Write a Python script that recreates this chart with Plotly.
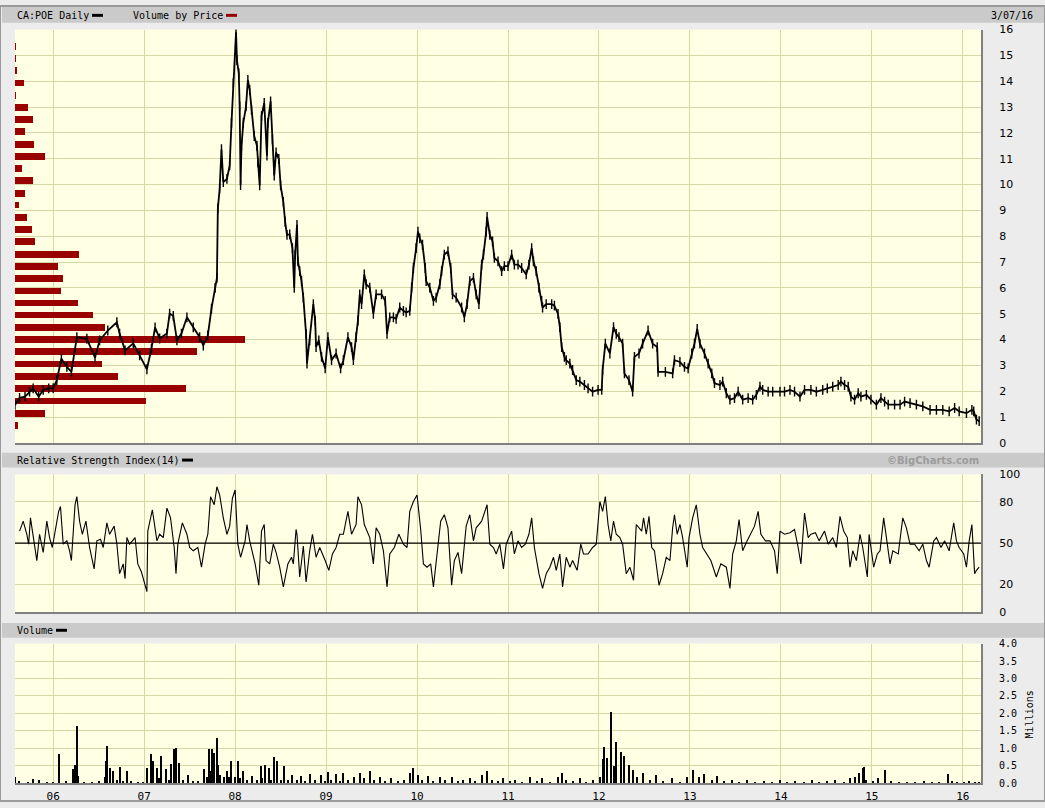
import plotly.graph_objects as go

# ---- data (x in decimal years) ----
price_t = [
    2005.58, 2005.63, 2005.69, 2005.74, 2005.78, 2005.84, 2005.89, 2005.95,
    2006.00, 2006.04, 2006.09, 2006.15, 2006.20, 2006.26, 2006.37, 2006.46, 2006.51, 2006.60, 2006.70, 2006.73, 2006.79, 2006.88, 2006.95,
    2007.03, 2007.08, 2007.12, 2007.17, 2007.25, 2007.28, 2007.32, 2007.36, 2007.41, 2007.47, 2007.54, 2007.61, 2007.65, 2007.70, 2007.74, 2007.78, 2007.80, 2007.81, 2007.83, 2007.85, 2007.87, 2007.91, 2007.94, 2007.96, 2007.98,
    2008.01, 2008.02, 2008.04, 2008.05, 2008.06, 2008.07, 2008.09, 2008.12, 2008.14, 2008.16, 2008.18, 2008.21, 2008.24, 2008.25, 2008.27, 2008.29, 2008.32, 2008.35, 2008.36, 2008.39, 2008.41, 2008.43, 2008.45, 2008.48, 2008.50, 2008.53, 2008.55, 2008.57, 2008.60, 2008.63, 2008.65, 2008.66, 2008.68, 2008.69, 2008.71, 2008.73, 2008.75, 2008.78, 2008.79, 2008.82, 2008.86, 2008.88, 2008.89, 2008.92, 2008.95, 2008.99,
    2009.02, 2009.06, 2009.11, 2009.16, 2009.19, 2009.24, 2009.28, 2009.30, 2009.33, 2009.35, 2009.37, 2009.39, 2009.42, 2009.44, 2009.48, 2009.52, 2009.55, 2009.61, 2009.65, 2009.67, 2009.70, 2009.74, 2009.77, 2009.81, 2009.85, 2009.88, 2009.92, 2009.94, 2009.96, 2009.99,
    2010.01, 2010.03, 2010.06, 2010.09, 2010.10, 2010.14, 2010.18, 2010.21, 2010.25, 2010.27, 2010.30, 2010.34, 2010.37, 2010.39, 2010.43, 2010.49, 2010.52, 2010.55, 2010.58, 2010.62, 2010.65, 2010.68, 2010.71, 2010.73, 2010.76, 2010.77, 2010.80, 2010.83, 2010.85, 2010.89, 2010.93, 2010.96,
    2011.00, 2011.04, 2011.07, 2011.11, 2011.15, 2011.20, 2011.23, 2011.26, 2011.28, 2011.31, 2011.34, 2011.37, 2011.38, 2011.42, 2011.48, 2011.51, 2011.55, 2011.57, 2011.59, 2011.62, 2011.64, 2011.68, 2011.71, 2011.75, 2011.79, 2011.84, 2011.88, 2011.93, 2011.99,
    2012.03, 2012.04, 2012.07, 2012.12, 2012.16, 2012.19, 2012.22, 2012.26, 2012.28, 2012.33, 2012.37, 2012.39, 2012.44, 2012.48, 2012.54, 2012.59, 2012.64, 2012.65, 2012.73, 2012.81, 2012.83, 2012.89, 2012.94, 2012.98,
    2013.02, 2013.05, 2013.08, 2013.11, 2013.16, 2013.20, 2013.24, 2013.27, 2013.33, 2013.36, 2013.40, 2013.44, 2013.49, 2013.53, 2013.58, 2013.64, 2013.69, 2013.73, 2013.77, 2013.80, 2013.86, 2013.91, 2013.99,
    2014.04, 2014.10, 2014.15, 2014.21, 2014.26, 2014.33, 2014.39, 2014.46, 2014.51, 2014.57, 2014.63, 2014.66, 2014.70, 2014.74, 2014.77, 2014.81, 2014.85, 2014.88, 2014.94, 2014.99,
    2015.05, 2015.10, 2015.14, 2015.18, 2015.25, 2015.31, 2015.36, 2015.42, 2015.49, 2015.56, 2015.64, 2015.71, 2015.78, 2015.85, 2015.91, 2015.96,
    2016.04, 2016.10, 2016.12, 2016.15, 2016.18,
]
price_close = [
    1.47, 1.74, 1.79, 1.98, 2.11, 1.79, 2.05, 2.11,
    2.12, 2.43, 3.26, 2.94, 2.75, 4.09, 4.03, 3.30, 3.97, 4.35, 4.67, 4.23, 3.58, 3.85, 3.39,
    2.85, 3.65, 4.47, 4.04, 4.23, 5.00, 4.92, 3.97, 4.23, 4.86, 4.47, 4.09, 3.77, 4.16, 5.20, 6.00, 6.39, 9.07, 9.84, 11.37, 10.10, 10.22, 10.74, 12.39, 13.93,
    15.90, 14.82, 14.31, 13.03, 9.98, 11.50, 12.39, 13.03, 14.05, 13.67, 12.90, 11.88, 11.50, 10.86, 9.97, 12.65, 13.16, 11.12, 12.39, 13.22, 11.75, 10.35, 11.25, 10.99, 9.97, 9.33, 8.56, 8.05, 8.07, 7.54, 6.00, 7.29, 8.44, 7.03, 6.65, 6.26, 5.62, 4.22, 3.07, 3.97, 5.37, 4.73, 3.71, 3.97, 3.33, 2.88,
    4.09, 3.20, 3.46, 2.88, 3.20, 4.09, 3.71, 3.20, 4.09, 4.73, 5.75, 5.37, 6.52, 6.14, 6.01, 4.99, 5.75, 5.75, 5.50, 4.22, 4.86, 4.86, 4.80, 5.24, 5.11, 5.05, 5.11, 6.01, 6.77, 7.54,
    8.18, 7.92, 7.67, 6.77, 6.26, 6.01, 5.50, 5.62, 6.14, 6.65, 7.29, 7.41, 6.77, 5.75, 5.62, 5.24, 4.86, 5.37, 6.26, 6.39, 5.75, 5.37, 6.90, 7.29, 8.18, 8.75, 8.05, 7.80, 7.16, 7.03, 6.65, 6.84,
    6.84, 7.29, 6.90, 6.90, 6.77, 6.52, 6.90, 7.54, 7.03, 6.65, 6.01, 5.50, 5.24, 5.37, 5.37, 5.31, 4.99, 4.48, 3.71, 3.33, 3.20, 3.07, 2.82, 2.43, 2.37, 2.24, 2.11, 1.98, 2.05,
    2.05, 2.82, 3.84, 3.46, 4.48, 4.22, 4.09, 3.84, 2.69, 2.43, 1.98, 3.33, 3.46, 3.84, 4.35, 3.84, 3.71, 2.75, 2.75, 2.69, 3.20, 3.13, 2.94, 2.88,
    3.46, 3.84, 4.41, 3.84, 3.46, 3.07, 2.69, 2.31, 2.24, 2.37, 1.92, 1.67, 1.73, 1.98, 1.67, 1.73, 1.67, 1.86, 2.18, 2.05, 1.98, 1.98, 1.98,
    1.98, 2.05, 1.98, 1.79, 2.05, 2.05, 1.98, 2.05, 2.11, 2.18, 2.24, 2.37, 2.24, 2.18, 1.79, 1.67, 1.92, 1.79, 1.86, 1.67,
    1.48, 1.73, 1.60, 1.48, 1.48, 1.48, 1.60, 1.54, 1.48, 1.41, 1.28, 1.28, 1.28, 1.22, 1.35, 1.22,
    1.15, 1.28, 1.22, 0.90, 0.84,
]

# volume by price: bin centre price and relative volume
vbp_price = [0.69, 1.16, 1.64, 2.12, 2.59, 3.07, 3.54, 4.01, 4.49, 4.97, 5.43, 5.90, 6.37, 6.85, 7.32, 7.80,
             8.28, 8.75, 9.22, 9.68, 10.17, 10.64, 11.11, 11.58, 12.06, 12.53, 13.00, 13.47, 13.95, 14.42, 14.90, 15.37]
vbp_volume = [3.3, 30.3, 131.3, 171.3, 103.3, 87.3, 182.3, 230.3, 90.3, 78.3, 63.3, 46.3, 48.3, 43.3, 64.3, 20.3,
              17.3, 12.3, 4.3, 10.3, 18.3, 7.3, 30.3, 19.3, 10.3, 18.3, 13.3, 1.0, 9.3, 2.3, 1.0, 1.0]

rsi_t = [
    2005.63, 2005.67, 2005.71, 2005.73, 2005.75, 2005.78, 2005.82, 2005.85, 2005.89, 2005.93, 2005.96, 2005.99,
    2006.02, 2006.06, 2006.08, 2006.11, 2006.15, 2006.18, 2006.20, 2006.24, 2006.26, 2006.29, 2006.32, 2006.36, 2006.40, 2006.45, 2006.48, 2006.52, 2006.55, 2006.59, 2006.62, 2006.67, 2006.70, 2006.73, 2006.77, 2006.79, 2006.81, 2006.84, 2006.90, 2006.93, 2006.97,
    2007.03, 2007.04, 2007.09, 2007.14, 2007.17, 2007.21, 2007.25, 2007.29, 2007.33, 2007.35, 2007.37, 2007.42, 2007.47, 2007.50, 2007.54, 2007.59, 2007.63, 2007.67, 2007.70, 2007.73, 2007.77, 2007.80, 2007.83, 2007.87, 2007.91, 2007.94, 2007.97,
    2008.00, 2008.03, 2008.06, 2008.11, 2008.13, 2008.16, 2008.22, 2008.26, 2008.29, 2008.32, 2008.34, 2008.38, 2008.42, 2008.45, 2008.49, 2008.53, 2008.58, 2008.62, 2008.64, 2008.67, 2008.68, 2008.71, 2008.75, 2008.78, 2008.82, 2008.85, 2008.89, 2008.93, 2008.99,
    2009.03, 2009.07, 2009.11, 2009.15, 2009.19, 2009.24, 2009.28, 2009.33, 2009.35, 2009.39, 2009.42, 2009.48, 2009.52, 2009.55, 2009.59, 2009.63, 2009.67, 2009.70, 2009.75, 2009.80, 2009.85, 2009.89, 2009.92, 2009.96,
    2010.00, 2010.04, 2010.07, 2010.11, 2010.15, 2010.18, 2010.21, 2010.26, 2010.30, 2010.34, 2010.38, 2010.41, 2010.45, 2010.49, 2010.54, 2010.58, 2010.62, 2010.65, 2010.71, 2010.77, 2010.80, 2010.84, 2010.87, 2010.91, 2010.95, 2010.98,
    2011.04, 2011.07, 2011.11, 2011.15, 2011.19, 2011.23, 2011.26, 2011.29, 2011.34, 2011.38, 2011.42, 2011.46, 2011.50, 2011.53, 2011.57, 2011.60, 2011.64, 2011.68, 2011.71, 2011.76, 2011.80, 2011.83, 2011.88, 2011.93, 2011.97,
    2012.01, 2012.04, 2012.07, 2012.10, 2012.13, 2012.16, 2012.19, 2012.23, 2012.26, 2012.30, 2012.34, 2012.38, 2012.41, 2012.47, 2012.49, 2012.52, 2012.55, 2012.58, 2012.61, 2012.66, 2012.70, 2012.74, 2012.78, 2012.81, 2012.83, 2012.86, 2012.89, 2012.92, 2012.97, 2012.99,
    2013.03, 2013.07, 2013.11, 2013.14, 2013.18, 2013.23, 2013.29, 2013.34, 2013.40, 2013.44, 2013.47, 2013.51, 2013.54, 2013.58, 2013.62, 2013.66, 2013.71, 2013.75, 2013.78, 2013.83, 2013.88, 2013.93, 2013.96, 2013.99,
    2014.04, 2014.10, 2014.15, 2014.19, 2014.22, 2014.26, 2014.30, 2014.33, 2014.38, 2014.42, 2014.48, 2014.52, 2014.57, 2014.61, 2014.65, 2014.69, 2014.73, 2014.76, 2014.79, 2014.83, 2014.87, 2014.90, 2014.95, 2014.97,
    2015.02, 2015.06, 2015.09, 2015.13, 2015.17, 2015.20, 2015.23, 2015.29, 2015.34, 2015.38, 2015.42, 2015.47, 2015.52, 2015.56, 2015.60, 2015.63, 2015.68, 2015.71, 2015.76, 2015.80, 2015.85, 2015.90, 2015.93, 2015.96,
    2016.01, 2016.04, 2016.07, 2016.10, 2016.13, 2016.15, 2016.18,
]
rsi_value = [
    58.8, 66.0, 56.5, 49.3, 68.4, 54.1, 37.4, 56.5, 43.3, 66.0, 54.1, 46.9,
    58.8, 73.1, 76.7, 49.3, 51.7, 44.5, 37.4, 77.9, 83.8, 66.0, 56.5, 66.0, 46.9, 31.4, 51.7, 52.9, 46.9, 64.8, 56.5, 62.4, 49.3, 27.9, 35.0, 24.3, 54.1, 49.3, 54.1, 35.0, 29.1,
    14.8, 58.8, 74.3, 51.7, 56.5, 54.1, 75.5, 68.4, 46.9, 27.9, 49.3, 64.8, 56.5, 46.9, 44.5, 46.9, 32.6, 49.3, 56.5, 83.8, 77.9, 91.0, 85.0, 68.4, 56.5, 62.4, 82.6,
    88.6, 49.3, 39.8, 51.7, 63.6, 51.7, 35.0, 19.5, 58.8, 63.6, 37.4, 35.0, 49.3, 43.3, 32.6, 18.3, 35.0, 39.8, 35.0, 60.0, 56.5, 25.5, 48.0, 21.9, 44.5, 56.5, 39.8, 46.9, 37.4,
    30.3, 42.2, 46.9, 56.5, 56.5, 73.1, 56.5, 63.6, 83.8, 77.9, 63.6, 54.1, 35.0, 61.2, 56.5, 44.5, 18.3, 42.2, 46.9, 56.5, 49.3, 46.9, 73.1, 80.3,
    85.0, 60.0, 35.0, 32.6, 35.0, 18.3, 37.4, 66.0, 70.7, 61.2, 19.5, 37.4, 43.3, 27.9, 62.4, 70.7, 51.7, 61.2, 66.0, 77.9, 49.3, 46.9, 42.2, 49.3, 31.4, 49.3,
    58.8, 42.2, 51.7, 46.9, 49.3, 56.5, 68.4, 46.9, 27.9, 17.2, 27.9, 32.6, 39.8, 30.3, 42.2, 18.3, 39.8, 32.6, 37.4, 30.3, 49.3, 42.2, 42.2, 46.9, 49.3,
    80.3, 73.1, 83.8, 63.6, 51.7, 66.0, 56.5, 54.1, 49.3, 27.9, 32.6, 23.1, 63.6, 58.8, 68.4, 56.5, 69.5, 46.9, 44.5, 19.5, 27.9, 39.8, 37.4, 61.2, 70.7, 56.5, 63.6, 54.1, 32.6, 54.1,
    68.4, 77.9, 56.5, 46.9, 42.2, 37.4, 25.5, 35.0, 32.6, 17.2, 42.2, 51.7, 67.2, 44.5, 50.5, 55.3, 62.4, 73.1, 56.5, 51.7, 51.7, 44.5, 27.9, 58.8,
    56.5, 57.6, 60.0, 46.9, 35.0, 71.9, 54.1, 56.5, 57.6, 51.7, 58.8, 49.3, 54.1, 46.9, 69.5, 58.8, 54.1, 32.6, 44.5, 37.4, 56.5, 46.9, 25.5, 56.5,
    32.6, 42.2, 44.5, 68.4, 49.3, 35.0, 44.5, 42.2, 68.4, 61.2, 49.3, 49.3, 44.5, 49.3, 37.4, 32.6, 51.7, 54.1, 46.9, 51.7, 44.5, 64.8, 51.7, 46.9,
    42.2, 32.6, 51.7, 63.6, 27.9, 30.3, 32.6,
]

vol_t = [
    2005.58, 2005.63, 2005.72, 2005.78, 2005.85, 2005.93,
    2006.00, 2006.07, 2006.14, 2006.22, 2006.24, 2006.26, 2006.27, 2006.34, 2006.43, 2006.50, 2006.57, 2006.58, 2006.59, 2006.62, 2006.66, 2006.70, 2006.73, 2006.77, 2006.81, 2006.86, 2006.93, 2006.99,
    2007.03, 2007.08, 2007.10, 2007.14, 2007.16, 2007.19, 2007.24, 2007.27, 2007.30, 2007.33, 2007.35, 2007.38, 2007.43, 2007.48, 2007.54, 2007.59, 2007.66, 2007.69, 2007.71, 2007.73, 2007.75, 2007.77, 2007.80, 2007.81, 2007.84, 2007.88, 2007.91, 2007.93, 2007.96,
    2008.00, 2008.03, 2008.06, 2008.09, 2008.13, 2008.19, 2008.24, 2008.28, 2008.30, 2008.33, 2008.37, 2008.40, 2008.43, 2008.46, 2008.50, 2008.54, 2008.58, 2008.63, 2008.68, 2008.73, 2008.77, 2008.82, 2008.88, 2008.95, 2008.99,
    2009.02, 2009.06, 2009.11, 2009.15, 2009.19, 2009.24, 2009.31, 2009.37, 2009.42, 2009.48, 2009.53, 2009.59, 2009.65, 2009.72, 2009.79, 2009.86, 2009.92, 2009.96,
    2010.01, 2010.06, 2010.12, 2010.18, 2010.25, 2010.31, 2010.38, 2010.45, 2010.51, 2010.58, 2010.64, 2010.71, 2010.77, 2010.82, 2010.89, 2010.95,
    2011.02, 2011.08, 2011.15, 2011.24, 2011.32, 2011.38, 2011.46, 2011.55, 2011.59, 2011.64, 2011.71, 2011.79, 2011.86, 2011.94,
    2012.01, 2012.04, 2012.06, 2012.09, 2012.13, 2012.17, 2012.19, 2012.24, 2012.28, 2012.33, 2012.38, 2012.42, 2012.48, 2012.56, 2012.63, 2012.71, 2012.80, 2012.89, 2012.97,
    2013.04, 2013.10, 2013.16, 2013.24, 2013.30, 2013.38, 2013.46, 2013.54, 2013.63, 2013.72, 2013.81, 2013.90, 2013.99,
    2014.07, 2014.16, 2014.25, 2014.34, 2014.42, 2014.51, 2014.60, 2014.69, 2014.76, 2014.82, 2014.86, 2014.90, 2014.91, 2014.94,
    2015.01, 2015.07, 2015.15, 2015.21, 2015.30, 2015.39, 2015.48, 2015.57, 2015.66, 2015.74, 2015.84, 2015.88, 2015.94,
    2016.01, 2016.07, 2016.14, 2016.18,
]
vol_millions = [
    0.18, 0.08, 0.06, 0.13, 0.10, 0.06,
    0.05, 0.84, 0.07, 0.41, 0.55, 1.66, 0.23, 0.06, 0.05, 0.07, 0.18, 0.64, 1.07, 0.45, 0.36, 0.10, 0.47, 0.08, 0.36, 0.07, 0.06, 0.06,
    0.45, 0.85, 0.66, 0.45, 0.15, 0.78, 0.41, 0.12, 0.57, 0.98, 1.02, 0.60, 0.10, 0.26, 0.08, 0.07, 0.41, 0.20, 1.00, 0.35, 0.98, 0.88, 1.31, 0.55, 0.25, 0.20, 0.36, 0.18, 0.64,
    0.20, 0.66, 0.15, 0.36, 0.10, 0.22, 0.10, 0.50, 0.15, 0.55, 0.45, 0.12, 0.76, 0.64, 0.12, 0.50, 0.10, 0.26, 0.10, 0.22, 0.08, 0.28, 0.10, 0.25, 0.08,
    0.34, 0.10, 0.28, 0.08, 0.31, 0.12, 0.20, 0.30, 0.15, 0.35, 0.10, 0.20, 0.08, 0.15, 0.07, 0.12, 0.30, 0.45,
    0.25, 0.10, 0.22, 0.08, 0.18, 0.12, 0.20, 0.07, 0.10, 0.15, 0.08, 0.25, 0.35, 0.12, 0.08, 0.15,
    0.07, 0.12, 0.06, 0.20, 0.08, 0.15, 0.06, 0.18, 0.30, 0.10, 0.08, 0.15, 0.06, 0.10,
    0.20, 0.70, 1.06, 0.75, 2.05, 0.50, 1.20, 0.92, 0.78, 0.55, 0.40, 0.20, 0.30, 0.12, 0.25, 0.08, 0.15, 0.06, 0.18,
    0.40, 0.20, 0.28, 0.10, 0.22, 0.08, 0.12, 0.06, 0.10, 0.05, 0.08, 0.05, 0.10,
    0.05, 0.08, 0.05, 0.12, 0.05, 0.08, 0.10, 0.06, 0.15, 0.20, 0.30, 0.46, 0.48, 0.12,
    0.08, 0.15, 0.39, 0.08, 0.05, 0.06, 0.05, 0.08, 0.05, 0.06, 0.27, 0.08, 0.05,
    0.06, 0.08, 0.06, 0.05,
]

year_ticks = list(range(2006, 2017))
year_labels = ["06", "07", "08", "09", "10", "11", "12", "13", "14", "15", "16"]
price_ticks = list(range(0, 17))
rsi_ticks = [0, 20, 50, 80, 100]
vol_ticks = [0, 0.5, 1.0, 1.5, 2.0, 2.5, 3.0, 3.5, 4.0]

# ---- layout helpers (pixel -> paper) ----
W, H = 1045, 808


def px(x):
    return x / W


def py(y):
    return 1 - y / H


PAGE = "#ECECEC"
BAR = "#CACACA"
PLOT_BG = "#FFFFE4"
GRID = "#D6D6A6"
EDGE = "#808080"
DARK_RED = "#990000"
MONO = "DejaVu Sans Mono"
SANS = "DejaVu Sans"

X_DOM = [px(15), px(981)]
PRICE_DOM = [py(444), py(24)]
RSI_DOM = [py(616), py(476)]
VOL_DOM = [py(790), py(648)]
YEAR_RANGE = [2005.58, 2016.20]

fig = go.Figure()

fig.add_trace(go.Bar(
    y=vbp_price, x=vbp_volume, orientation="h", width=0.26,
    marker=dict(color=DARK_RED, line=dict(width=0)),
    xaxis="x", yaxis="y", hoverinfo="skip",
))
fig.add_trace(go.Scatter(
    x=price_t, y=price_close, mode="lines+markers",
    line=dict(color="black", width=1.8),
    marker=dict(symbol="line-ns", size=7, line=dict(width=1.4, color="black")),
    xaxis="x5", yaxis="y",
))
fig.add_trace(go.Scatter(
    x=rsi_t, y=rsi_value, mode="lines",
    line=dict(color="black", width=1.1),
    xaxis="x2", yaxis="y2",
))
fig.add_trace(go.Bar(
    x=vol_t, y=vol_millions, width=0.013,
    marker=dict(color="black", line=dict(width=0)),
    xaxis="x3", yaxis="y3",
))

year_axis = dict(
    range=YEAR_RANGE, tickvals=year_ticks, ticktext=year_labels,
    showgrid=True, gridcolor=GRID, gridwidth=1, zeroline=False,
    showline=True, linecolor=EDGE, linewidth=2, ticks="",
    showticklabels=False, fixedrange=True,
)
right_axis = dict(
    side="right", showgrid=True, gridcolor=GRID, gridwidth=1, zeroline=False,
    showline=True, linecolor=EDGE, linewidth=2, ticks="",
    ticklabelstandoff=14, fixedrange=True,
    tickfont=dict(family=SANS, size=11, color="black"),
)

shapes = [
    # header bars
    dict(type="rect", xref="paper", yref="paper", x0=px(2), x1=1, y0=py(17), y1=py(1),
         fillcolor=BAR, line=dict(width=0), layer="below"),
    dict(type="rect", xref="paper", yref="paper", x0=px(2), x1=1, y0=py(469), y1=py(454),
         fillcolor=BAR, line=dict(width=0), layer="below"),
    dict(type="rect", xref="paper", yref="paper", x0=px(2), x1=1, y0=py(642), y1=py(627),
         fillcolor=BAR, line=dict(width=0), layer="below"),
    # legend swatches
    dict(type="rect", xref="paper", yref="paper", x0=px(92), x1=px(103), y0=py(11), y1=py(8),
         fillcolor="black", line=dict(width=0)),
    dict(type="rect", xref="paper", yref="paper", x0=px(226), x1=px(237), y0=py(11), y1=py(8),
         fillcolor=DARK_RED, line=dict(width=0)),
    dict(type="rect", xref="paper", yref="paper", x0=px(182), x1=px(193), y0=py(463), y1=py(460),
         fillcolor="black", line=dict(width=0)),
    dict(type="rect", xref="paper", yref="paper", x0=px(56), x1=px(67), y0=py(636), y1=py(633),
         fillcolor="black", line=dict(width=0)),
    # RSI midline
    dict(type="line", xref="x2 domain", yref="y2", x0=0, x1=1, y0=50, y1=50,
         line=dict(color="black", width=1.2)),
    # outer frame
    dict(type="rect", xref="paper", yref="paper", x0=0, x1=1, y0=0, y1=1,
         line=dict(color="#9A9A9A", width=2)),
]

head_font = dict(family=MONO, size=10, color="black")
annotations = [
    dict(text="CA:POE Daily", x=px(15), y=py(9.5), xanchor="left", font=head_font),
    dict(text="Volume by Price", x=px(131), y=py(9.5), xanchor="left", font=head_font),
    dict(text="3/07/16", x=px(1035), y=py(9.5), xanchor="right", font=head_font),
    dict(text="Relative Strength Index(14)", x=px(15), y=py(461.5), xanchor="left", font=head_font),
    dict(text="<b>©BigCharts.com</b>", x=px(981), y=py(461.5), xanchor="right",
         font=dict(family=SANS, size=10, color="#9C9C9C")),
    dict(text="Volume", x=px(15), y=py(634.5), xanchor="left", font=head_font),
    dict(text="Millions", x=px(1029), y=py(720), xanchor="center", textangle=-90,
         font=dict(family=MONO, size=10, color="black")),
]
for a in annotations:
    a.update(xref="paper", yref="paper", yanchor="middle", showarrow=False)

fig.update_layout(
    width=W, height=H, autosize=False,
    margin=dict(l=0, r=0, t=0, b=0),
    paper_bgcolor=PAGE, plot_bgcolor=PLOT_BG,
    showlegend=False, bargap=0,
    # volume-by-price scale (hidden), price uses the overlaying year axis
    xaxis=dict(domain=X_DOM, anchor="y", range=[0, max(vbp_volume) * 966 / 230],
               visible=False, fixedrange=True),
    xaxis5=dict(year_axis, overlaying="x", anchor="y"),
    yaxis=dict(right_axis, domain=PRICE_DOM, anchor="x", range=[0, 16], tickvals=price_ticks),
    xaxis2=dict(year_axis, domain=X_DOM, anchor="y2"),
    yaxis2=dict(right_axis, domain=RSI_DOM, anchor="x2", range=[0, 100], tickvals=rsi_ticks),
    xaxis3=dict(year_axis, domain=X_DOM, anchor="y3", showticklabels=True,
                ticklabelstandoff=2, tickfont=dict(family=MONO, size=11, color="black")),
    yaxis3=dict(right_axis, domain=VOL_DOM, anchor="x3", range=[0, 4], tickvals=vol_ticks,
                tickformat=".1f", tickfont=dict(family=MONO, size=10, color="black")),
    shapes=shapes,
    annotations=annotations,
)

# drop the browser's default page margin so the chart sits at the window origin
fig.write_html(
    "out.html",
    config={"displayModeBar": False},
    post_script="document.body.style.margin='0';",
)
